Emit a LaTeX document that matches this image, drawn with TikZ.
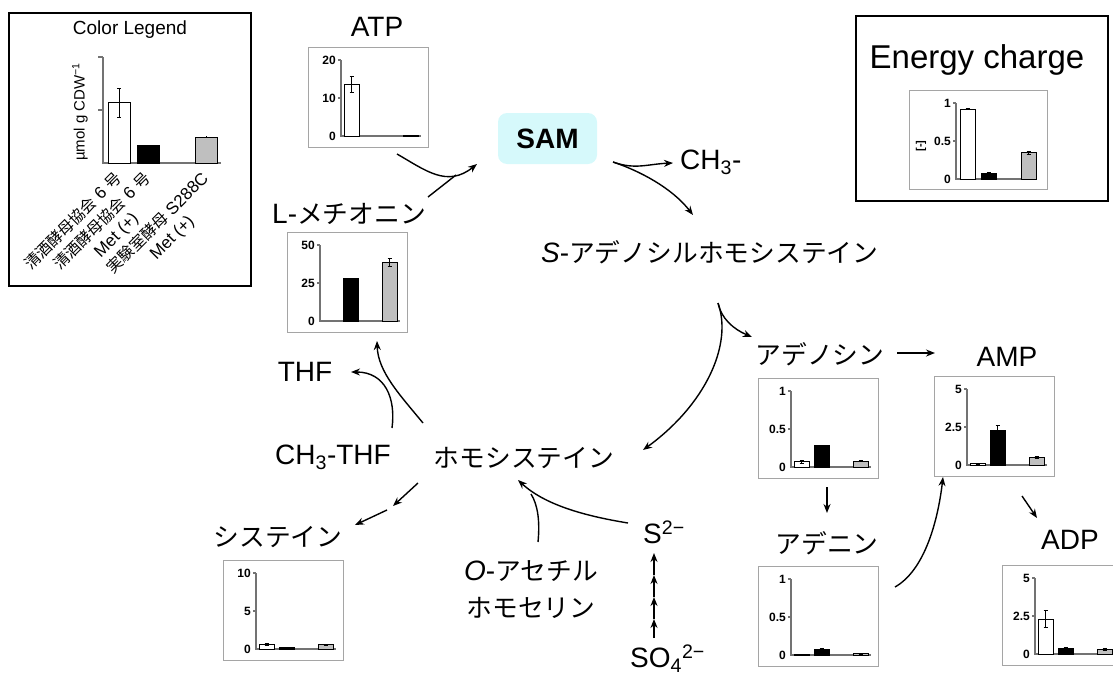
\documentclass[tikz,border=0pt]{standalone}
\usepackage{fontspec}
\setmainfont{Liberation Sans}
\newfontfamily\jp[Scale=0.92]{Noto Sans CJK JP}
\usetikzlibrary{arrows.meta}

\definecolor{samfill}{RGB}{214,249,251}
\definecolor{barGray}{RGB}{191,191,191}
\definecolor{frameGray}{RGB}{165,165,165}
\definecolor{axisGray}{RGB}{115,115,115}

\tikzset{
  flow/.style={line width=1.4pt, -{Stealth[length=9pt,width=7pt]}},
  plainflow/.style={line width=1.4pt},
  lbl/.style={font=\fontsize{28}{37}\selectfont, inner sep=0pt},
  sambox/.style={fill=samfill, rounded corners=9pt, minimum width=99pt,
    minimum height=51pt, inner sep=0pt, font=\bfseries\fontsize{28}{32}\selectfont},
  chartbox/.style={draw=frameGray, line width=0.8pt, inner sep=0pt, anchor=north west},
  axisline/.style={draw=axisGray, line width=1.1pt},
  ticklabel/.style={font=\bfseries\fontsize{12}{14}\selectfont, inner sep=0pt, anchor=east},
  barbox/.style={draw=black, line width=0.5pt},
  errbar/.style={draw=black, line width=0.6pt},
  legendtxt/.style={font=\fontsize{17}{20}\selectfont, inner sep=0pt, align=center,
    rotate=45, anchor=north east},
}

% axes of a small bar chart; #1 name prefix, #2,#3 top-left corner of its frame
\newcommand\chartaxes[5]{%
  \begin{scope}[shift={(#2,#3)}]
    \draw[axisline] (33,13) -- (33,89) -- (113,89);
    \draw[axisline] (30,13) -- (33,13) (30,51) -- (33,51);
    \node[ticklabel] (#1-top) at (28,13) {#4};
    \node[ticklabel] (#1-mid) at (28,51) {#5};
    \node[ticklabel] (#1-zero) at (28,89) {0};
  \end{scope}}

% one bar: frame corner, bar left edge, fill, height fraction, error fraction
\newcommand\chartbar[6]{%
  \begin{scope}[shift={(#1,#2)}]
    \filldraw[barbox, fill=#4] (#3,89) rectangle ({#3+15},{89-76*#5});
    \ifdim #6pt>0pt
      \draw[errbar] ({#3+7.5},{89-76*(#5+#6)}) -- ({#3+7.5},{89-76*(#5-#6)})
        ({#3+5.5},{89-76*(#5+#6)}) -- ({#3+9.5},{89-76*(#5+#6)})
        ({#3+5.5},{89-76*(#5-#6)}) -- ({#3+9.5},{89-76*(#5-#6)});
    \fi
  \end{scope}}

\begin{document}
\begin{tikzpicture}[x=1pt,y=-1pt]
\useasboundingbox (0,0) rectangle (1113,680);

% ---------- colour legend ----------
\node[draw, line width=1.8pt, minimum width=242pt, minimum height=273pt,
  inner sep=0pt, anchor=north west] (legendbox) at (8,12) {};
\node[font=\fontsize{19}{22}\selectfont, inner sep=0pt] (legendtitle) at (130,30) {Color Legend};
\node[font=\fontsize{15}{18}\selectfont, inner sep=0pt, rotate=90] (unit) at (80,112)
  {µmol g CDW\textsuperscript{−1}};
\draw[axisline] (103,57) -- (103,163) -- (221,163);
\draw[axisline] (98,57) -- (103,57) (98,110) -- (103,110);
\filldraw[barbox, fill=white] (108,163) rectangle (130,102);
\draw[errbar] (119,88) -- (119,117) (117,88) -- (121,88) (117,117) -- (121,117);
\filldraw[barbox, fill=black] (137,163) rectangle (159,145);
\filldraw[barbox, fill=barGray] (195,163) rectangle (217,137);
\draw[errbar] (206,136) -- (206,138);
\node[legendtxt] (lab1) at (113,170) {{\jp 清酒酵母協会} 6 {\jp 号}};
\node[legendtxt] (lab2) at (142,170) {{\jp 清酒酵母協会} 6 {\jp 号}\\Met (+)};
\node[legendtxt] (lab3) at (200,170) {{\jp 実験室酵母} S288C\\Met (+)};

% ---------- energy charge ----------
\node[draw, line width=2.2pt, minimum width=252pt, minimum height=185pt,
  inner sep=0pt, anchor=north west] (ecbox) at (855,15) {};
\node[font=\fontsize{33}{38}\selectfont, inner sep=0pt] (ectitle) at (977,60) {Energy charge};
\node[chartbox, minimum width=138pt, minimum height=99pt] (ecchart) at (909,90) {};
\chartaxes{ec}{923}{90}{1}{0.5}
\node[font=\bfseries\fontsize{11}{13}\selectfont, inner sep=0pt, rotate=90] (ecunit) at (921,146) {[-]};
\chartbar{923}{90}{37}{white}{0.92}{0.008}
\chartbar{923}{90}{58}{black}{0.08}{0.01}
\chartbar{923}{90}{98}{barGray}{0.35}{0.02}

% ---------- metabolite names ----------
\node[lbl] (atp) at (377,27) {ATP};
\node[lbl, anchor=west] (lmet) at (272,214) {L-\jp メチオニン};
\node[sambox] (sam) at (547.5,138.5) {SAM};
\node[lbl, anchor=west] (ch3) at (680,162) {CH\textsubscript{3}-};
\node[lbl, anchor=west] (sah) at (541,252) {\textit{S}-\jp アデノシルホモシステイン};
\node[lbl] (ado) at (820,354) {\jp アデノシン};
\node[lbl] (amp) at (1007,357) {AMP};
\node[lbl] (ade) at (827,543) {\jp アデニン};
\node[lbl] (adp) at (1070,540) {ADP};
\node[lbl] (thf) at (305,372) {THF};
\node[lbl] (mthf) at (333,457) {CH\textsubscript{3}-THF};
\node[lbl] (hcy) at (524,458) {\jp ホモシステイン};
\node[lbl] (cys) at (278,537) {\jp システイン};
\node[lbl, align=center] (oah) at (531,590) {\textit{O}-{\jp アセチル}\\{\jp ホモセリン}};
\node[lbl, anchor=west] (sulf) at (643,532) {S\textsuperscript{2−}};
\node[lbl, anchor=west] (so4) at (630,659) {SO\textsubscript{4}\textsuperscript{2−}};

% ---------- bar charts ----------
\node[chartbox, minimum width=120pt, minimum height=100pt] (atpchart) at (308,47) {};
\chartaxes{atpc}{308}{47}{20}{10}
\chartbar{308}{47}{36}{white}{0.68}{0.105}
\chartbar{308}{47}{95}{barGray}{0.01}{0}

\node[chartbox, minimum width=120pt, minimum height=100pt] (lmetchart) at (287,232) {};
\chartaxes{lmetc}{287}{232}{50}{25}
\chartbar{287}{232}{56}{black}{0.56}{0.005}
\chartbar{287}{232}{95}{barGray}{0.77}{0.05}

\node[chartbox, minimum width=120pt, minimum height=100pt] (adochart) at (758,378) {};
\chartaxes{adoc}{758}{378}{1}{0.5}
\chartbar{758}{378}{36}{white}{0.07}{0.015}
\chartbar{758}{378}{56}{black}{0.28}{0.008}
\chartbar{758}{378}{95}{barGray}{0.08}{0.01}

\node[chartbox, minimum width=120pt, minimum height=100pt] (ampchart) at (934,376) {};
\chartaxes{ampc}{934}{376}{5}{2.5}
\chartbar{934}{376}{36}{white}{0.02}{0.005}
\chartbar{934}{376}{56}{black}{0.46}{0.06}
\chartbar{934}{376}{95}{barGray}{0.1}{0.01}

\node[chartbox, minimum width=120pt, minimum height=100pt] (adechart) at (758,566) {};
\chartaxes{adec}{758}{566}{1}{0.5}
\chartbar{758}{566}{36}{white}{0.01}{0}
\chartbar{758}{566}{56}{black}{0.08}{0.01}
\chartbar{758}{566}{95}{barGray}{0.02}{0.005}

\node[chartbox, minimum width=120pt, minimum height=100pt] (adpchart) at (1002,565) {};
\chartaxes{adpc}{1002}{565}{5}{2.5}
\chartbar{1002}{565}{36}{white}{0.46}{0.11}
\chartbar{1002}{565}{56}{black}{0.08}{0.01}
\chartbar{1002}{565}{95}{barGray}{0.06}{0.012}

\node[chartbox, minimum width=120pt, minimum height=100pt] (cyschart) at (223,560) {};
\chartaxes{cysc}{223}{560}{10}{5}
\chartbar{223}{560}{36}{white}{0.06}{0.01}
\chartbar{223}{560}{56}{black}{0.02}{0.005}
\chartbar{223}{560}{95}{barGray}{0.06}{0.005}

% ---------- connector end points ----------
\coordinate (atpout) at (397,154);
\coordinate (samin) at (477,164);
\coordinate (lmetout) at (428,197);
\coordinate (metjoin) at (456,175);
\coordinate (samout) at (613,162);
\coordinate (ch3in) at (673,163);
\coordinate (sahin) at (693,215);
\coordinate (sahout) at (718,303);
\coordinate (adoin) at (752,337);
\coordinate (hcyin) at (643,450);
\coordinate (adoright) at (897,353);
\coordinate (ampleft) at (935,353);
\coordinate (adobelow) at (827,487);
\coordinate (adeabove) at (827,513);
\coordinate (adeout) at (895,587);
\coordinate (ampbelow) at (943,477);
\coordinate (ampout) at (1022,496);
\coordinate (adpin) at (1037,518);
\coordinate (hcyup) at (423,423);
\coordinate (lmetin) at (377,341);
\coordinate (mthfup) at (392,428);
\coordinate (thfin) at (351,372);
\coordinate (hcydown) at (418,483);
\coordinate (cysmid) at (393,506);
\coordinate (cysmid2) at (387,510);
\coordinate (cysin) at (355,525);
\coordinate (sulfout) at (628,523);
\coordinate (hcyin2) at (518,480);
\coordinate (oahup) at (538,542);
\coordinate (oahjoin) at (531,494);
\coordinate (so4top) at (654,638);
\coordinate (stepa) at (654,619);
\coordinate (stepb) at (654,597);
\coordinate (stepc) at (654,575);
\coordinate (sulfbelow) at (654,553);

% ---------- reactions ----------
\draw[flow] (atpout) .. controls (425,170) and (447,188) .. (samin);
\draw[plainflow] (lmetout) -- (metjoin);
\draw[flow] (samout) .. controls (635,170) and (648,164) .. (ch3in);
\draw[flow] (samout) .. controls (640,171) and (672,188) .. (sahin);
\draw[flow] (sahout) .. controls (721,318) and (733,329) .. (adoin);
\draw[flow] (sahout) .. controls (733,345) and (705,405) .. (hcyin);
\draw[flow] (adoright) -- (ampleft);
\draw[flow] (adobelow) -- (adeabove);
\draw[flow] (adeout) .. controls (925,570) and (938,520) .. (ampbelow);
\draw[flow] (ampout) -- (adpin);
\draw[flow] (hcyup) .. controls (400,395) and (378,372) .. (lmetin);
\draw[flow] (mthfup) .. controls (396,398) and (385,372) .. (thfin);
\draw[flow] (hcydown) -- (cysmid);
\draw[flow] (cysmid2) -- (cysin);
\draw[flow] (sulfout) .. controls (585,516) and (545,505) .. (hcyin2);
\draw[plainflow] (oahup) .. controls (540,522) and (538,505) .. (oahjoin);
\draw[flow] (so4top) -- (stepa);
\draw[flow] (stepa) -- (stepb);
\draw[flow] (stepb) -- (stepc);
\draw[flow] (stepc) -- (sulfbelow);
\end{tikzpicture}
\end{document}
